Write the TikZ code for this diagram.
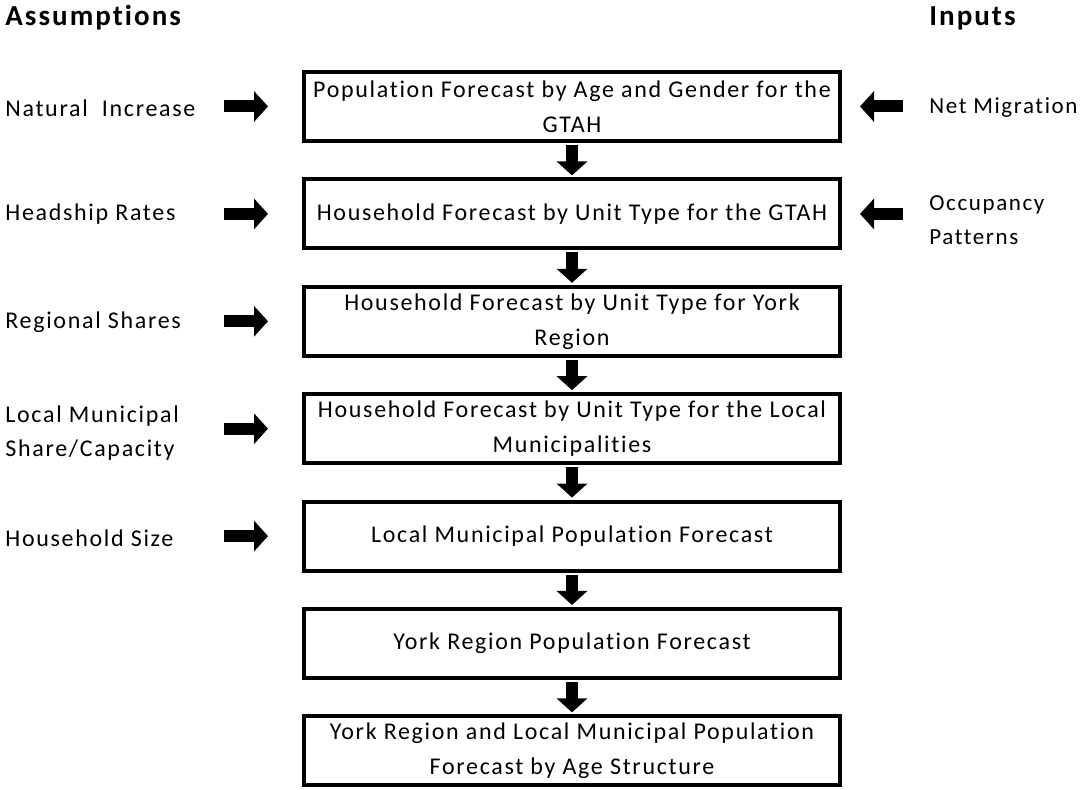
\documentclass[tikz,border=0pt]{standalone}
\usepackage{fontspec}
\setmainfont{Carlito}[LetterSpace=7,Ligatures=CommonOff]
\usepackage{tikz}
\usetikzlibrary{arrows.meta}
\tikzset{
    stage/.style={rectangle,draw,line width=2pt,minimum width=268pt,minimum height=34.5pt,inner sep=0pt,align=center,font=\fontsize{12}{17.5}\selectfont},
    lbl/.style={anchor=west,align=left,inner sep=0pt,font=\fontsize{12}{17}\selectfont},
    rlbl/.style={lbl,font=\fontsize{11.5}{17}\selectfont},
    hd/.style={anchor=west,inner sep=0pt,font=\fontsize{14.5}{17}\selectfont\bfseries},
    blk/.style={line width=6pt,-{Triangle[width=15pt,length=7pt]}},
    flow/.style={
        every edge/.style={draw,blk,shorten <=1pt,shorten >=1pt},
    }
}
\begin{document}
\begin{tikzpicture}[x=0.5pt,y=-0.5pt,flow]
\useasboundingbox (0,0) rectangle (1082,790);
\def\p{107.4}
\node[hd] (ass) at (5,18) {Assumptions};
\node[hd] (inp) at (929,18) {Inputs};
\node[stage] (b1) at (572,106.5) {Population Forecast by Age and Gender for the\\GTAH};
\node[stage] (b2) at (572,106.5+\p) {Household Forecast by Unit Type for the GTAH};
\node[stage] (b3) at (572,106.5+2*\p) {Household Forecast by Unit Type for York\\Region};
\node[stage] (b4) at (572,106.5+3*\p) {Household Forecast by Unit Type for the Local\\Municipalities};
\node[stage] (b5) at (572,106.5+4*\p) {Local Municipal Population Forecast};
\node[stage] (b6) at (572,106.5+5*\p) {York Region Population Forecast};
\node[stage] (b7) at (572,106.5+6*\p) {York Region and Local Municipal Population\\Forecast by Age Structure};
\node[lbl] (l1) at (5,108) {Natural\ \ Increase};
\node[lbl] (l2) at (5,214) {Headship Rates};
\node[lbl] (l3) at (5,322) {Regional Shares};
\node[lbl] (l4) at (5,433) {Local Municipal\\Share/Capacity};
\node[lbl] (l5) at (5,538) {Household Size};
\node[rlbl] (r1) at (929,108) {Net Migration};
\node[rlbl] (r2) at (929,220) {Occupancy\\Patterns};
\coordinate (s1) at (222,106.5);
\coordinate (s2) at (222,106.5+\p);
\coordinate (s3) at (222,106.5+2*\p);
\coordinate (s4) at (222,106.5+3*\p);
\coordinate (s5) at (222,106.5+4*\p);
\coordinate (t1) at (905,106.5);
\coordinate (t2) at (905,106.5+\p);
\path
    (b1) edge (b2)
    (b2) edge (b3)
    (b3) edge (b4)
    (b4) edge (b5)
    (b5) edge (b6)
    (b6) edge (b7)
    (s1) edge[shorten >=17pt] (b1)
    (s2) edge[shorten >=17pt] (b2)
    (s3) edge[shorten >=17pt] (b3)
    (s4) edge[shorten >=17pt] (b4)
    (s5) edge[shorten >=17pt] (b5)
    (t1) edge[shorten >=9pt] (b1)
    (t2) edge[shorten >=9pt] (b2)
;
\end{tikzpicture}
\end{document}
